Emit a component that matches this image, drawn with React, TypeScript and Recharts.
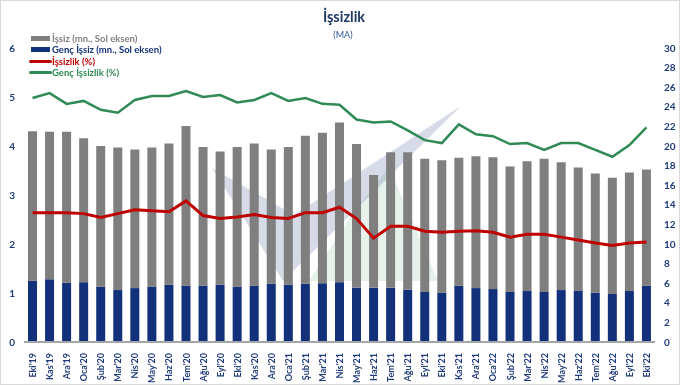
import { Bar, ComposedChart, Line, XAxis, YAxis } from "recharts";

const months = [
  "Eki'19", "Kas'19", "Ara'19", "Oca'20", "Şub'20", "Mar'20", "Nis'20", "May'20", "Haz'20", "Tem'20",
  "Ağu'20", "Eyl'20", "Eki'20", "Kas'20", "Ara'20", "Oca'21", "Şub'21", "Mar'21", "Nis'21", "May'21",
  "Haz'21", "Tem'21", "Ağu'21", "Eyl'21", "Eki'21", "Kas'21", "Ara'21", "Oca'22", "Şub'22", "Mar'22",
  "Nis'22", "May'22", "Haz'22", "Tem'22", "Ağu'22", "Eyl'22", "Eki'22",
];

// milyon kişi
const unemployed = [
  4.30, 4.29, 4.29, 4.16, 4.00, 3.97, 3.93, 3.97, 4.05, 4.41, 3.98, 3.89, 3.98, 4.05, 3.93, 3.98, 4.21, 4.27, 4.48,
  4.04, 3.41, 3.87, 3.87, 3.74, 3.71, 3.76, 3.79, 3.77, 3.58, 3.69, 3.74, 3.67, 3.56, 3.44, 3.35, 3.46, 3.52,
];
const youthUnemployed = [
  1.25, 1.28, 1.21, 1.22, 1.13, 1.06, 1.10, 1.13, 1.17, 1.15, 1.15, 1.17, 1.13, 1.15, 1.19, 1.17, 1.19, 1.20, 1.22,
  1.11, 1.11, 1.11, 1.07, 1.02, 1.01, 1.15, 1.10, 1.08, 1.02, 1.04, 1.02, 1.06, 1.04, 1.01, 0.98, 1.04, 1.15,
];
// %
const unemploymentRate = [
  13.2, 13.2, 13.2, 13.1, 12.7, 13.1, 13.5, 13.4, 13.3, 14.4, 12.9, 12.6, 12.75, 13.0, 12.7, 12.6, 13.2, 13.2, 13.75,
  12.6, 10.6, 11.8, 11.8, 11.3, 11.2, 11.3, 11.35, 11.2, 10.7, 11.0, 11.0, 10.7, 10.4, 10.1, 9.85, 10.1, 10.2,
];
const youthRate = [
  24.9, 25.4, 24.3, 24.6, 23.7, 23.4, 24.7, 25.1, 25.1, 25.6, 25.0, 25.2, 24.45, 24.7, 25.4, 24.6, 24.9, 24.3, 24.2,
  22.7, 22.4, 22.5, 21.6, 20.6, 20.3, 22.2, 21.2, 21.0, 20.2, 20.3, 19.6, 20.3, 20.3, 19.6, 18.9, 20.1, 21.9,
];

const leftTicks = [0, 1, 2, 3, 4, 5, 6];
const rightTicks = [0, 2, 4, 6, 8, 10, 12, 14, 16, 18, 20, 22, 24, 26, 28, 30];

const NAVY = "#12317a";
const GREY = "#7f7f7f";
const RED = "#c00000";
const GREEN = "#2f8a55";
const LABEL = "#1f3a7a";

const data = months.map((m, i) => ({
  month: m,
  youth: youthUnemployed[i],
  rest: +(unemployed[i] - youthUnemployed[i]).toFixed(2),
  rate: unemploymentRate[i],
  youthRate: youthRate[i],
}));

const legendItems = [
  { label: "İşsiz (mn., Sol eksen)", color: GREY, kind: "bar" },
  { label: "Genç İşsiz (mn., Sol eksen)", color: NAVY, kind: "bar" },
  { label: "İşsizlik (%)", color: RED, kind: "line" },
  { label: "Genç İşsizlik (%)", color: GREEN, kind: "line" },
];

function LegendBox() {
  return (
    <div
      style={{
        position: "absolute",
        top: 32,
        left: 28,
        zIndex: 2,
        fontFamily: "Lato, sans-serif",
        fontSize: 9.5,
        fontWeight: 700,
        lineHeight: "11.3px",
      }}
    >
      {legendItems.map((it) => (
        <div key={it.label} style={{ display: "flex", alignItems: "center", color: it.color }}>
          <span
            style={{
              display: "inline-block",
              width: it.kind === "bar" ? 19 : 23,
              height: it.kind === "bar" ? 5 : 3,
              marginLeft: it.kind === "bar" ? 2 : 0,
              marginRight: it.kind === "bar" ? 2 : 0,
              background: it.color,
              borderRadius: it.kind === "bar" ? 0 : 2,
            }}
          />
          <span>{it.label}</span>
        </div>
      ))}
    </div>
  );
}

// soluk logo filigranı (arka plan)
function Watermark() {
  return (
    <svg width={678} height={383} style={{ position: "absolute", left: 0, top: 0 }}>
      <polygon points="211,167 282,280 460,105 293,214" fill="#1f3a7a" fillOpacity={0.18} />
      <polygon points="308,280 437,280 388,166 352,212" fill="#2f8a55" fillOpacity={0.12} />
    </svg>
  );
}

function MonthTick({ x, y, payload }: any) {
  return (
    <text
      x={x}
      y={y + 3}
      transform={`rotate(-90, ${x}, ${y + 3})`}
      textAnchor="end"
      dominantBaseline="central"
      fill={LABEL}
      fontSize={9}
      fontWeight={700}
      fontFamily="Lato, sans-serif"
    >
      {payload.value}
    </text>
  );
}

export default function App() {
  return (
    <div
      style={{
        position: "fixed",
        left: 0,
        top: 0,
        width: 678,
        height: 383,
        border: "1px solid #d9d9d9",
        background: "#fff",
        fontFamily: "Lato, sans-serif",
      }}
    >
      <Watermark />
      <div style={{ position: "absolute", top: 7, left: 0, width: 686, textAlign: "center", color: "#1f3864", fontSize: 14.5, fontWeight: 700 }}>
        İşsizlik
      </div>
      <div style={{ position: "absolute", top: 28, left: 0, width: 684, textAlign: "center", color: "#2f5597", fontSize: 9 }}>
        (MA)
      </div>
      <LegendBox />
      <div style={{ position: "absolute", left: 0, top: 0 }}>
        <ComposedChart width={678} height={383} data={data} margin={{ top: 47, right: 0, bottom: 0, left: 0 }} barSize={9}>
          <XAxis
            dataKey="month"
            interval={0}
            height={42}
            tick={<MonthTick />}
            tickLine={false}
            axisLine={{ stroke: "#a6a6a6", strokeWidth: 2 }}
          />
          <YAxis
            yAxisId="left"
            domain={[0, 6]}
            ticks={leftTicks}
            width={23}
            axisLine={false}
            tickLine={false}
            tickSize={0}
            tickMargin={9}
            tick={{ fill: LABEL, fontSize: 10, fontWeight: 700, fontFamily: "Lato, sans-serif" }}
          />
          <YAxis
            yAxisId="right"
            orientation="right"
            domain={[0, 30]}
            ticks={rightTicks}
            width={24}
            axisLine={false}
            tickLine={false}
            tickSize={0}
            tickMargin={9}
            tick={{ fill: LABEL, fontSize: 10, fontWeight: 700, fontFamily: "Lato, sans-serif" }}
          />
          <Bar yAxisId="left" dataKey="youth" stackId="a" fill={NAVY} isAnimationActive={false} />
          <Bar yAxisId="left" dataKey="rest" stackId="a" fill={GREY} isAnimationActive={false} />
          <Line
            yAxisId="right"
            type="linear"
            dataKey="rate"
            stroke={RED}
            strokeWidth={3}
            dot={false}
            isAnimationActive={false}
          />
          <Line
            yAxisId="right"
            type="linear"
            dataKey="youthRate"
            stroke={GREEN}
            strokeWidth={2.5}
            dot={false}
            isAnimationActive={false}
          />
        </ComposedChart>
      </div>
    </div>
  );
}
